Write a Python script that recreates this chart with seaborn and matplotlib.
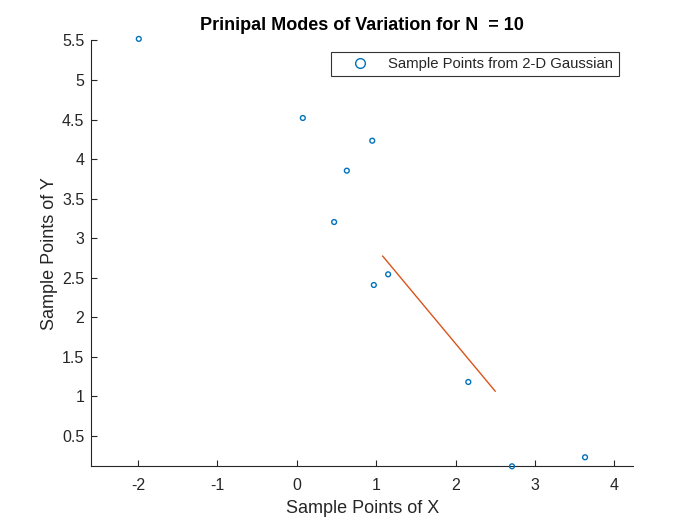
import matplotlib
matplotlib.use("Agg")
import matplotlib.pyplot as plt
import seaborn as sns
import pandas as pd
from matplotlib.lines import Line2D

# Data
sample_x = [-1.99, 0.076, 0.95, 0.63, 0.47, 1.15, 0.97, 2.16, 2.71, 3.63]
sample_y = [5.52, 4.52, 4.233, 3.854, 3.205, 2.544, 2.409, 1.183, 0.117, 0.231]
mode_x = [1.08, 2.50]
mode_y = [2.776, 1.065]
x_ticks = [-2, -1, 0, 1, 2, 3, 4]
y_ticks = [0.5, 1, 1.5, 2, 2.5, 3, 3.5, 4, 4.5, 5, 5.5]
y_tick_labels = ["0.5", "1", "1.5", "2", "2.5", "3", "3.5", "4", "4.5", "5", "5.5"]
title = "Prinipal Modes of Variation for N  = 10"
legend_label = "Sample Points from 2-D Gaussian"

blue = (0.0, 0.447, 0.741)
orange = (0.85, 0.325, 0.098)

sns.set_style("ticks")
plt.rcParams['font.family'] = ['Liberation Sans', 'DejaVu Sans']

fig = plt.figure(figsize=(7, 5.25), dpi=100)
ax = fig.add_axes([91.3 / 700, 1 - 466.3 / 525, (633 - 91.3) / 700, (466.3 - 40) / 525])

df = pd.DataFrame({"x": sample_x, "y": sample_y})
sns.scatterplot(data=df, x="x", y="y", ax=ax, marker="o", s=12,
                facecolor="none", edgecolor=blue, linewidth=1.0,
                legend=False, clip_on=False, zorder=3)
sns.lineplot(x=mode_x, y=mode_y, ax=ax, color=orange, linewidth=1.0,
             legend=False, sort=False)

ax.set_xlim(-2.588, 4.234)
ax.set_ylim(0.117, 5.506)
ax.set_xticks(x_ticks)
ax.set_xticklabels([str(t) for t in x_ticks])
ax.set_yticks(y_ticks)
ax.set_yticklabels(y_tick_labels)
ax.tick_params(direction="in", length=4, width=0.8, labelsize=11.5, colors="#262626")
ax.tick_params(axis="x", pad=8.5)
ax.tick_params(axis="y", pad=5)
for side in ["top", "right"]:
    ax.spines[side].set_visible(False)
for side in ["left", "bottom"]:
    ax.spines[side].set_color("#262626")
    ax.spines[side].set_linewidth(0.8)

ax.set_xlabel("Sample Points of X", fontsize=13, color="#262626", labelpad=5)
ax.set_ylabel("Sample Points of Y", fontsize=13, color="#262626", labelpad=3)
ax.set_title(title, fontsize=13, fontweight="bold", color="black", pad=7.5)

handle = Line2D([], [], linestyle="none", marker="o", markersize=7,
                markerfacecolor="none", markeredgecolor=blue, markeredgewidth=1.0)
leg = ax.legend([handle], [legend_label], loc="lower left",
                bbox_to_anchor=(331 / 700, 1 - 76 / 525, (619 - 331) / 700, (76 - 53) / 525),
                bbox_transform=fig.transFigure, mode="expand",
                frameon=True, fancybox=False, fontsize=10.7,
                borderpad=0.35, handletextpad=0.27, handlelength=3.2,
                borderaxespad=0)
leg.get_frame().set_edgecolor("black")
leg.get_frame().set_linewidth(0.8)

fig.savefig("out.png", dpi=100, facecolor="white")
